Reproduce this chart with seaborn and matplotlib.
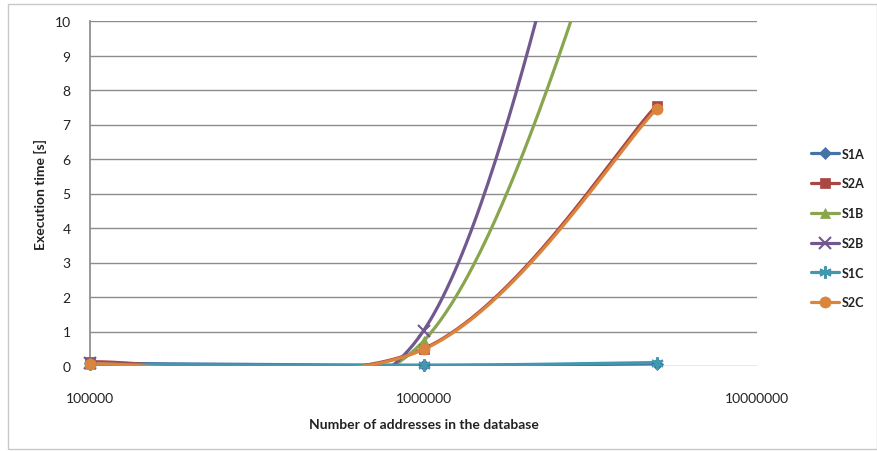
import numpy as np
import pandas as pd
import matplotlib
matplotlib.use("Agg")
import matplotlib.pyplot as plt
import seaborn as sns
from matplotlib.lines import Line2D
from matplotlib.patches import Rectangle

# --- data ---
addresses = [100000, 1000000, 5000000]
series_names = ["S1A", "S2A", "S1B", "S2B", "S1C", "S2C"]
s1a = [0.08, 0.02, 0.06]
s2a = [0.12, 0.50, 7.55]
s1b = [0.05, 0.72, 17.5]
s2b = [0.10, 1.02, 24.5]
s1c = [0.05, 0.02, 0.10]
s2c = [0.06, 0.48, 7.45]
y_ticks = list(range(0, 11))
x_ticks = [100000, 1000000, 10000000]

colors = ["#4572A7", "#AA4643", "#89A54E", "#71588F", "#4198AF", "#DB843D"]
markers = ["D", "s", "^", "x", (6, 2, 0), "o"]
msizes = [6, 7, 7, 8, 9, 8]

sns.set_theme(style="white")
plt.rcParams['font.family'] = ['Lato', 'DejaVu Sans']


def smooth(xs, ys, n=120):
    # excel-like smoothed line (catmull-rom bezier) in log-x space
    lx = np.log10(xs)
    p = np.column_stack([lx, ys]).astype(float)
    pts = np.vstack([p[0], p, p[-1]])
    out = []
    for i in range(1, len(pts) - 2):
        p0, p1, p2, p3 = pts[i - 1], pts[i], pts[i + 1], pts[i + 2]
        c1 = p1 + (p2 - p0) / 6
        c2 = p2 - (p3 - p1) / 6
        t = np.linspace(0, 1, n)[:, None]
        seg = ((1 - t) ** 3) * p1 + 3 * (1 - t) ** 2 * t * c1 + 3 * (1 - t) * t ** 2 * c2 + t ** 3 * p2
        out.append(seg)
    seg = np.vstack(out)
    return 10 ** seg[:, 0], seg[:, 1]


all_vals = [s1a, s2a, s1b, s2b, s1c, s2c]
rows = []
pts = []
for name, vals in zip(series_names, all_vals):
    sx, sy = smooth(addresses, vals)
    for i, (a, b) in enumerate(zip(sx, sy)):
        rows.append({"x": a, "y": b, "series": name, "order": i})
    for a, b in zip(addresses, vals):
        pts.append({"x": a, "y": b, "series": name})
curves = pd.DataFrame(rows)
points = pd.DataFrame(pts)

fig = plt.figure(figsize=(8.77, 4.52), dpi=100)
ax = fig.add_axes([90 / 877, 1 - 367 / 452, (757 - 90) / 877, (367 - 22) / 452])

palette = dict(zip(series_names, colors))
sns.lineplot(data=curves, x="x", y="y", hue="series", units="series", estimator=None,
             sort=False, palette=palette, linewidth=2.3, legend=False, ax=ax)

for name, c, m, ms in zip(series_names, colors, markers, msizes):
    d = points[points["series"] == name]
    d = d[d["y"] <= 10]
    ax.plot(d["x"], d["y"], linestyle="none", marker=m, color=c, markersize=ms,
            markeredgewidth=1.5 if m in ("x", (6, 2, 0)) else 0.5, clip_on=False, zorder=5)

ax.set_xscale("log")
ax.set_xlim(100000, 10000000)
ax.set_ylim(0, 10)
ax.set_yticks(y_ticks)
ax.set_xticks(x_ticks)
ax.set_xticklabels([str(v) for v in x_ticks])
ax.minorticks_off()
ax.grid(axis="y", color="#8c8c8c", linewidth=1)
for s in ["top", "right", "bottom"]:
    ax.spines[s].set_visible(False)
ax.spines["left"].set_color("#8c8c8c")
ax.tick_params(axis="y", length=0, pad=14, labelsize=10, labelcolor="#222222")
ax.tick_params(axis="x", length=0, pad=19, labelsize=10, labelcolor="#222222")
ax.set_axisbelow(True)

ax.set_xlabel("Number of addresses in the database", fontsize=10, fontweight="bold",
              labelpad=10, color="#222222")
ax.set_ylabel("Execution time [s]", fontsize=10, fontweight="bold", labelpad=5,
              color="#222222")

handles = [Line2D([0], [0], color=c, marker=m, markersize=ms, linewidth=2.3,
                  markeredgewidth=1.5 if m in ("x", (6, 2, 0)) else 0.5)
           for c, m, ms in zip(colors, markers, msizes)]
leg = fig.legend(handles, series_names, loc="center left", bbox_to_anchor=(811 / 877, 1 - 229 / 452),
                 frameon=False, handlelength=2.2, handletextpad=0.3, labelspacing=1.42,
                 borderpad=0, borderaxespad=0,
                 prop={"weight": "bold", "size": 9})
for t in leg.get_texts():
    t.set_color("#222222")

fig.patches.append(Rectangle((8 / 877, 2 / 452), 1 - 8 / 877, 1 - 7 / 452, transform=fig.transFigure,
                             fill=False, edgecolor="#c8c8c8", linewidth=1))

fig.savefig("out.png", dpi=100)
